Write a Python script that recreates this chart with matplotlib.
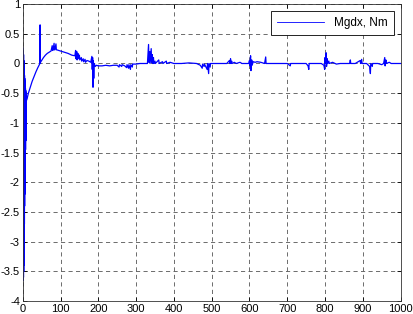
import matplotlib
matplotlib.use("Agg")
import matplotlib.pyplot as plt

# start: fast oscillation then recovery curve
t_start = [0, 1, 1.5, 1.75, 2, 2.25, 2.5, 2.75, 3, 3.25, 3.5, 3.75,
           4, 4.25, 4.5, 4.75, 5, 5.25, 5.5, 5.75, 6, 6.25, 6.5, 6.75, 7, 7.25, 7.5, 7.75,
           8, 8.25, 8.5, 8.75, 9, 9.25, 9.5, 9.75, 10,
           12, 15, 20, 25, 30, 35, 40, 44, 45, 46, 46.5, 47, 50, 55, 60, 65, 70, 75,
           78, 79, 80, 83, 84, 85, 88, 89, 90, 95, 100, 110, 120, 130, 138, 140, 141,
           143, 144, 146, 147, 150, 151, 155, 156, 160, 161, 165, 166, 170, 175, 180,
           183, 184, 185, 186, 187, 188, 189, 192, 195]
m_start = [0.27, 0.25, -3.65, 0.2, -3.6, 0.15, -3.5, 0.05, -3.4, 0.0, -3.2, -0.1, -3.0,
           -0.15, -2.7, -0.2, -2.4, -0.25, -2.2, -0.3, -2.0, -0.35, -1.8, -0.4, -1.6, -0.42,
           -1.45, -0.45, -1.3, -0.48, -1.15, -0.5, -1.0, -0.52, -0.85, -0.55, -0.62,
           -0.58, -0.5, -0.4, -0.3, -0.22, -0.14, -0.07, -0.02, 0.0, 0.65, 0.0, 0.02, 0.05,
           0.1, 0.14, 0.17, 0.19, 0.21,
           0.3, 0.22, 0.22, 0.34, 0.23, 0.23, 0.33, 0.23, 0.23, 0.22, 0.21, 0.19, 0.17, 0.14,
           0.13, 0.22, 0.08,
           0.2, 0.06, 0.17, 0.08, 0.14, 0.06, 0.1, 0.04, 0.08, 0.03, 0.07, 0.02, 0.05, 0.04,
           0.02,
           0.12, -0.1, 0.1, -0.4, 0.05, -0.25, 0.0, -0.05, -0.03]

# rest: near zero with short spikes
t_rest = [200, 210, 220, 230, 240, 250, 255, 256, 262, 263, 270, 275, 276, 280, 281, 285, 286,
          290, 291, 300, 310, 320, 330, 333, 334, 336, 337, 340, 341, 343, 344, 346, 347, 350,
          351, 360, 361, 370, 371, 380, 381, 390, 400, 420, 440, 460, 470, 475, 476, 480, 481,
          488, 489, 492, 493, 496, 497, 510, 520, 540, 547, 548, 550, 551, 553, 554, 560, 565,
          575, 580, 598, 600, 601, 603, 604, 606, 607, 610, 615, 620, 630, 640, 643, 644, 660,
          680, 700, 708, 709, 730, 750, 755, 757, 758, 770, 790, 797, 799, 800, 801, 803, 804,
          806, 807, 810, 811, 820, 830, 840, 865, 867, 868, 880, 893, 894, 897, 898, 910, 918,
          920, 921, 925, 926, 940, 950, 955, 958, 959, 961, 962, 970, 975, 990, 1000]
m_rest = [-0.04, -0.04, -0.03, -0.04, -0.03, -0.03, -0.06, -0.02, -0.05, -0.02, -0.04, -0.07,
          -0.02, -0.08, -0.02, -0.1, -0.02,
          -0.06, -0.01, -0.01, 0.0, 0.0, 0.0, 0.32, 0.02, 0.2, 0.0, 0.25, 0.02, 0.15, 0.0, 0.1,
          0.0, 0.04,
          0.0, 0.06, 0.0, 0.03, 0.0, 0.04, 0.0, 0.02, 0.0, 0.0, 0.01, 0.0, -0.03, -0.08, -0.01,
          -0.05, -0.01,
          -0.1, 0.0, -0.17, 0.0, -0.06, 0.0, 0.0, 0.0, 0.0, 0.05, 0.0, 0.08, 0.0, 0.04, 0.0,
          0.02, 0.0,
          0.02, 0.0, 0.0, 0.05, -0.04, 0.13, -0.12, 0.06, -0.03, 0.03, 0.02, 0.03, 0.02, 0.0,
          0.11, 0.0, 0.0,
          0.0, 0.0, -0.04, 0.0, 0.0, 0.0, -0.04, -0.1, 0.0, 0.0, 0.0, -0.03, -0.1, 0.1, 0.0,
          0.18, -0.05,
          0.08, 0.0, 0.04, 0.0, 0.02, -0.01, 0.0, 0.0, 0.06, 0.0, 0.0, 0.05, 0.0, 0.07, 0.0,
          0.0, -0.05,
          -0.17, 0.0, -0.05, 0.0, 0.0, -0.02, 0.0, 0.1, -0.04, 0.06, 0.0, 0.02, 0.0, 0.0, 0.0]

t = t_start + t_rest
mgdx = m_start + m_rest

plt.rcParams['font.family'] = ['Liberation Sans', 'DejaVu Sans']
plt.rcParams['font.size'] = 8
plt.rcParams['path.simplify'] = False

fig = plt.figure(figsize=(4.13, 3.14), dpi=100)
ax = fig.add_axes([0.055, 0.041, 0.915, 0.946])
line, = ax.plot(t, mgdx, color=(0, 0, 1), lw=0.9, label='Mgdx, Nm')
ax.set_xlim(0, 1000)
ax.set_ylim(-4, 1)
ax.set_xticks(range(0, 1001, 100))
ax.set_yticks([-4, -3.5, -3, -2.5, -2, -1.5, -1, -0.5, 0, 0.5, 1])
ax.set_yticklabels(['-4', '-3.5', '-3', '-2.5', '-2', '-1.5', '-1', '-0.5', '0', '0.5', '1'])
ax.grid(True, color='#555555', linestyle=(0, (5, 4)), linewidth=0.6)
ax.tick_params(direction='in', length=3, top=True, right=True, pad=2, width=0.6)
for s in ax.spines.values():
    s.set_linewidth(0.6)
    s.set_color('#333333')
leg = ax.legend(loc='upper right', fancybox=False, edgecolor='black', framealpha=1,
                handlelength=4.0, borderaxespad=0.6, fontsize=8.5, borderpad=0.5)
leg.get_frame().set_linewidth(0.6)
leg.get_lines()[0].set_linewidth(0.6)
fig.savefig('out.png', dpi=100)
